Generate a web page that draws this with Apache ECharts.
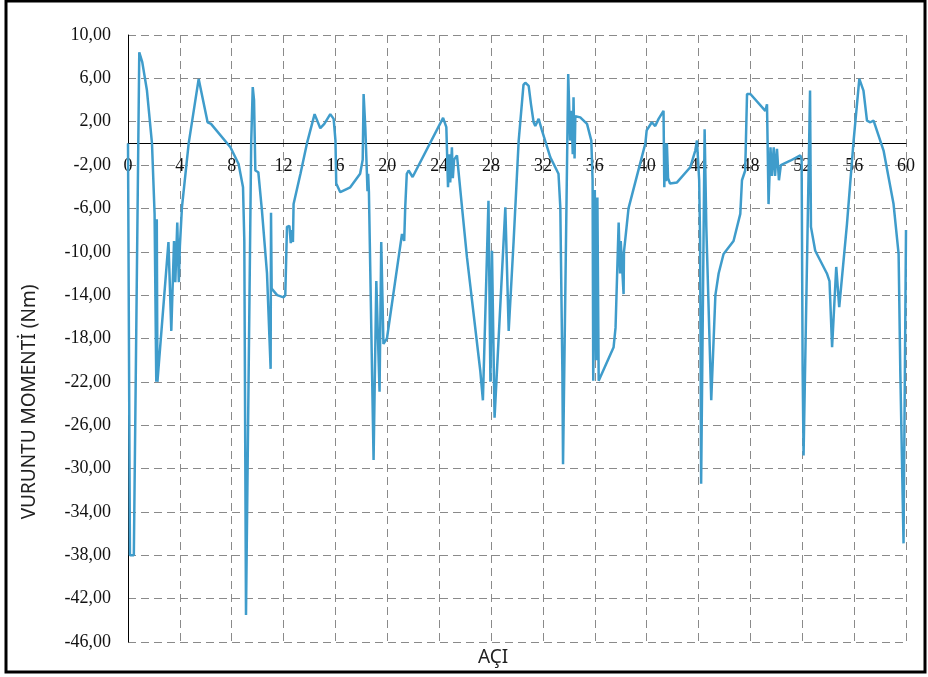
<!DOCTYPE html>
<html>
<head>
<meta charset="utf-8">
<script src="https://cdn.jsdelivr.net/npm/echarts@6/dist/echarts.min.js"></script>
<style>html,body{margin:0;padding:0;background:#fff;}#c{width:928px;height:677px;}</style>
</head>
<body>
<div id="c"></div>
<script>
const angles = [0,0.15,0.45,0.87,1.1,1.46,1.85,2.05,2.18,2.22,2.27,3.12,3.34,3.55,3.65,3.8,3.92,4.0,4.16,4.68,5.45,6.14,6.4,7.9,8.53,8.87,8.97,9.1,9.5,9.62,9.72,9.82,10.05,10.33,10.72,11.0,11.03,11.08,11.5,12.0,12.13,12.26,12.45,12.55,12.65,12.72,12.77,13.3,13.8,14.39,14.83,15.14,15.6,15.86,16.0,16.06,16.37,17.14,17.9,18.1,18.17,18.3,18.42,18.47,18.52,18.58,18.94,19.15,19.4,19.53,19.7,19.97,21.13,21.3,21.38,21.5,21.64,21.95,24.3,24.55,24.68,24.78,24.85,24.98,25.05,25.15,25.37,25.76,26.14,27.17,27.37,27.8,27.95,28.07,28.27,29.1,29.36,29.74,30.13,30.5,30.64,30.9,31.08,31.28,31.41,31.67,31.9,32.57,33.2,33.34,33.5,33.55,33.95,34.1,34.2,34.3,34.36,34.44,34.5,34.88,35.4,35.73,35.83,35.88,36.0,36.1,36.2,36.3,37.45,37.6,37.84,37.95,38.0,38.22,38.25,38.6,39.9,40.0,40.4,40.66,40.92,41.3,41.36,41.45,41.5,41.56,41.65,41.8,42.34,43.36,43.75,43.88,44.05,44.12,44.2,44.47,44.6,44.98,45.3,45.55,45.93,46.7,47.22,47.35,47.6,47.74,48.0,49.15,49.28,49.4,49.55,49.65,49.8,49.9,50.05,50.2,50.35,51.07,51.85,51.95,52.03,52.1,52.6,52.67,53.0,53.9,54.1,54.3,54.62,54.85,55.45,55.96,56.4,56.72,56.99,57.25,57.5,58.27,59.04,59.43,59.56,59.81,60];
const moments = [0,-38,-38,8.4,7.5,4.9,0,-6.5,-22,-7,-22,-9.1,-17.3,-9,-12.8,-7.3,-12.8,-9.5,-5.9,0,5.95,1.95,1.8,-0.36,-1.9,-4.05,-9,-43.5,0,5.2,4,-2.5,-2.66,-6.2,-12,-20.8,-6.4,-13.4,-14.0,-14.2,-14,-7.7,-7.6,-9.2,-8.0,-9.1,-5.6,-2.8,0,2.7,1.4,1.8,2.7,2.26,0.26,-3.7,-4.5,-4.05,-2.8,-1.5,4.56,1.5,-2.6,-4.4,-2.8,-4.5,-29.2,-12.7,-22.9,-9.1,-18.5,-18.0,-8.35,-9.0,-5.9,-2.8,-2.5,-3.1,2.35,1.5,-4.05,-1,-3.6,-0.36,-3.2,-1.5,-1.1,-5.9,-10.5,-21,-23.7,-5.3,-22,-9.9,-25.3,-5.9,-17.3,-9,0.26,5.4,5.6,5.3,3.6,1.95,1.6,2.26,1.3,-1.28,-2.8,-5.9,-21,-29.6,6.4,0.26,3,-1,4.25,-1.4,2.5,2.4,1.8,0.26,-3.4,-21.9,-4.3,-20,-5,-21.9,-18.8,-17,-7.3,-12,-9,-13.9,-10,-6,0,1.2,1.95,1.6,2.26,3.0,-4.05,0,-3.5,0,-3.2,-3.7,-3.6,-2.2,-0.66,0.26,-3.4,-9,-31.4,1.3,-7.7,-23.7,-14,-12,-10.2,-9,-6.5,-3.4,-2.5,4.56,4.56,3.0,3.6,-5.6,-0.36,-3.0,-0.36,-3.0,-0.5,-3.4,-2.0,-1.6,-1.1,-1.5,-21,-28.8,4.87,-7.7,-9.9,-12.0,-12.7,-18.8,-11.4,-15.1,-7.4,0.26,5.95,4.87,2.1,1.95,2.1,-0.66,-5.6,-10.2,-21,-36.9,-8];
const xTitle = 'AÇI';
const yTitle = 'VURUNTU MOMENTİ (Nm)';
const yMin = -46, yMax = 10;

const W = 928, H = 677;
const gTop = 35, gBottom = 35;
const plotH = H - gTop - gBottom;
const zeroFromBottom = plotH * (0 - yMin) / (yMax - yMin);

const chart = echarts.init(document.getElementById('c'), null, {renderer: 'canvas'});
const gridDash = {color: '#8a8a8a', width: 1, type: [8, 5]};
chart.setOption({
  animation: false,
  backgroundColor: '#fff',
  grid: {left: 128, right: 22, top: gTop, bottom: gBottom, containLabel: false},
  xAxis: [{
    type: 'value', min: 0, max: 60, interval: 4,
    axisLine: {show: true, onZero: false, lineStyle: {color: '#000', width: 1}},
    offset: -zeroFromBottom,
    axisTick: {show: false},
    axisLabel: {color: '#111', fontFamily: 'Liberation Serif', fontSize: 18, margin: 14},
    splitLine: {show: true, lineStyle: gridDash}
  }],
  yAxis: {
    type: 'value', min: yMin, max: yMax, interval: 4,
    axisLine: {show: true, onZero: false, lineStyle: {color: '#000', width: 1}},
    axisTick: {show: false},
    axisLabel: {color: '#111', fontFamily: 'Liberation Serif', fontSize: 18, margin: 17,
      formatter: v => v.toFixed(2).replace('.', ',')},
    splitLine: {show: true, lineStyle: gridDash}
  },
  series: [{
    type: 'line',
    data: angles.map((a, i) => [a, moments[i]]),
    showSymbol: false,
    lineStyle: {color: '#3f9ccb', width: 2.5},
    z: 5
  }],
  graphic: [
    {type: 'rect', shape: {x: 6, y: 1, width: 919, height: 671}, style: {fill: 'none', stroke: '#000', lineWidth: 3}, silent: true},
    {type: 'text', x: 30, y: 402, rotation: Math.PI / 2,
      style: {text: yTitle, font: '19px "Noto Sans"', fill: '#222', align: 'center', verticalAlign: 'middle'}},
    {type: 'text', x: 493, y: 658,
      style: {text: xTitle, font: '19px "Noto Sans"', fill: '#222', align: 'center', verticalAlign: 'middle'}}
  ]
});
</script>
</body>
</html>
